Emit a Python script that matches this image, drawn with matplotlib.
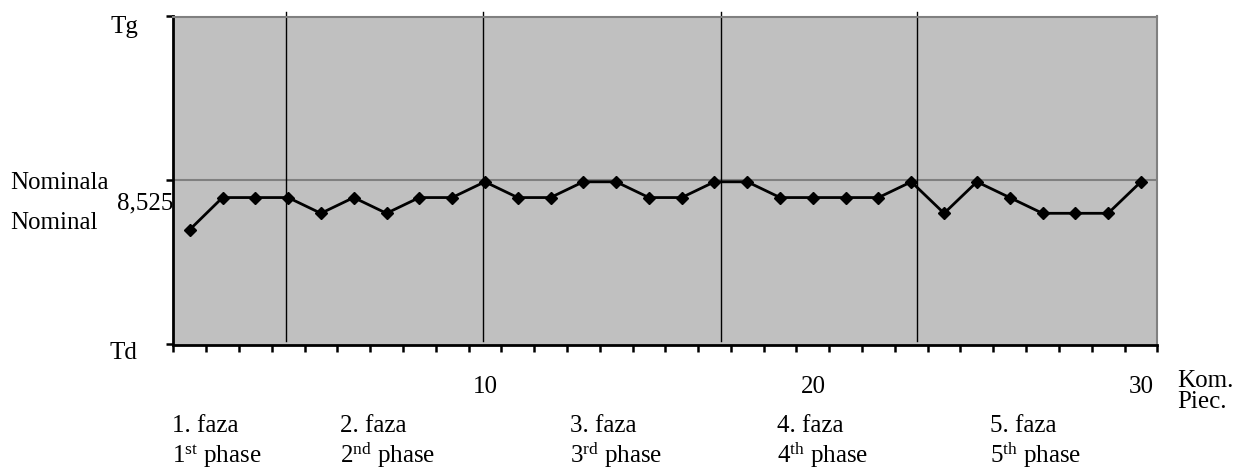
import matplotlib
matplotlib.use('Agg')
import matplotlib.pyplot as plt
import numpy as np

plt.rcParams['font.family'] = ['Liberation Serif', 'DejaVu Serif']
plt.rcParams['mathtext.fontset'] = 'custom'
plt.rcParams['mathtext.rm'] = 'Liberation Serif'
plt.rcParams['mathtext.it'] = 'Liberation Serif:italic'

### Data

pieces = np.arange(1, 31)
values = [8.5175, 8.5224, 8.5224, 8.5224, 8.5200, 8.5224, 8.5200, 8.5224, 8.5224, 8.5248,
          8.5224, 8.5224, 8.5248, 8.5248, 8.5224, 8.5224, 8.5248, 8.5248, 8.5224, 8.5224,
          8.5224, 8.5224, 8.5248, 8.5200, 8.5248, 8.5224, 8.5200, 8.5200, 8.5200, 8.5248]
td, nominal, tg = 8.5, 8.525, 8.55
phase_bounds = [3.94, 9.95, 17.19, 23.18]
phase_names = ['1. faza', '2. faza', '3. faza', '4. faza', '5. faza']
phase_names_en = [r'1$^{\mathrm{st}}$ phase', r'2$^{\mathrm{nd}}$ phase', r'3$^{\mathrm{rd}}$ phase',
                  r'4$^{\mathrm{th}}$ phase', r'5$^{\mathrm{th}}$ phase']
x_tick_vals = [10, 20, 30]

### Figure

W, H = 1241, 468
fig = plt.figure(figsize=(W / 100, H / 100), dpi=100)
ax = fig.add_axes([173.3 / W, 1 - 344.5 / H, 984 / W, 328 / H])
ax.set_facecolor('#c0c0c0')

ax.axhline(nominal, color='#808080', lw=1.5, zorder=1)
for b in phase_bounds:
    ax.axvline(b, ymin=0.012, ymax=1.015, color='black', lw=1, clip_on=False, zorder=2)
ax.plot(pieces, values, color='black', lw=2, marker='D', ms=6.5, zorder=3)

ax.set_xlim(0.5, 30.5)
ax.set_ylim(td, tg)

for s in ['left', 'bottom']:
    ax.spines[s].set_color('black')
    ax.spines[s].set_linewidth(2)
for s in ['top', 'right']:
    ax.spines[s].set_color('#808080')
    ax.spines[s].set_linewidth(1.5)

# ticks
ax.set_xticks(np.arange(0.5, 31, 1), minor=True)
ax.set_xticks(x_tick_vals)
ax.set_xticklabels([str(v) for v in x_tick_vals], fontsize=18)
ax.tick_params(axis='x', which='major', length=0, pad=23)
ax.tick_params(axis='x', which='minor', length=5, width=1.8, color='black', direction='out')
ax.set_yticks([td, nominal, tg])
ax.set_yticklabels([])
ax.tick_params(axis='y', length=5, width=1.8, color='black', direction='out')

# labels
def ftext(x, y, s, ha='left'):
    fig.text(x / W, 1 - y / H, s, ha=ha, va='baseline', fontsize=18)

ftext(138, 33, 'Tg', ha='right')
ftext(137, 359, 'Td', ha='right')
ftext(10, 189, 'Nominala')
ftext(173, 209, '8,525', ha='right')
ftext(10, 229, 'Nominal')
ftext(1177, 387, 'Kom.')
ftext(1177, 408, 'Piec.')
for px, n1, n2 in zip([172, 340, 570, 777, 990], phase_names, phase_names_en):
    ftext(px, 432, n1)
    ftext(px, 463, n2)

fig.savefig('out.png', dpi=100)
plt.close(fig)
